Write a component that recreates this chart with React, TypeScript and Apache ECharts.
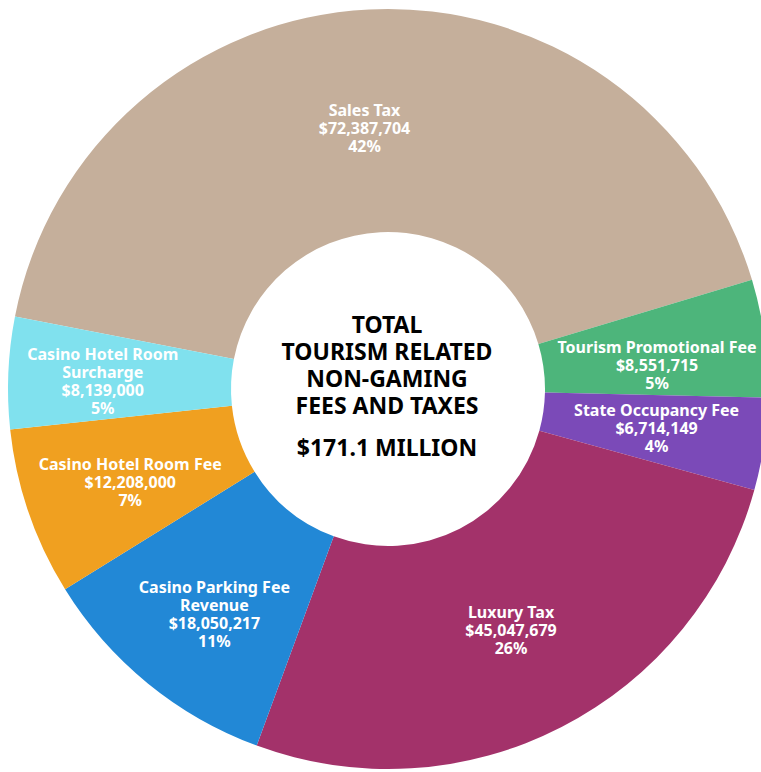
import React, { useEffect, useRef } from "react";
import * as echarts from "echarts";

const categories = [
  "Sales Tax",
  "Tourism Promotional Fee",
  "State Occupancy Fee",
  "Luxury Tax",
  "Casino Parking Fee Revenue",
  "Casino Hotel Room Fee",
  "Casino Hotel Room Surcharge",
];

const labelNames = [
  "Sales Tax",
  "Tourism Promotional Fee",
  "State Occupancy Fee",
  "Luxury Tax",
  "Casino Parking Fee\nRevenue",
  "Casino Hotel Room Fee",
  "Casino Hotel Room\nSurcharge",
];

const values = [72387704, 8551715, 6714149, 45047679, 18050217, 12208000, 8139000];

const colors = ["#C5AF9B", "#4DB57B", "#7B4AB8", "#A3326A", "#2288D6", "#F0A020", "#80E1EE"];

// label nudges (style only)
const labelNudges = [
  [-10, 10],
  [0, 12],
  [0, 0],
  [-1, -1],
  [-2, 15],
  [-1, 5],
  [-14, 4],
];

const centerTitle = "TOTAL\nTOURISM RELATED\nNON-GAMING\nFEES AND TAXES";
const centerTotal = "$171.1 MILLION";

export default function App() {
  const ref = useRef<HTMLDivElement>(null);
  useEffect(() => {
    if (!ref.current) return;
    const chart = echarts.init(ref.current, undefined, { renderer: "svg" });
    const cx = 388;
    const cy = 389;
    chart.setOption({
      animation: false,
      graphic: [
        {
          type: "text",
          x: cx - 1,
          y: 364,
          style: {
            text: centerTitle,
            fill: "#000",
            font: "bold 23px 'Noto Sans'",
            lineHeight: 27,
            align: "center",
            verticalAlign: "middle",
          },
          z: 10,
        },
        {
          type: "text",
          x: cx - 1,
          y: 447,
          style: {
            text: centerTotal,
            fill: "#000",
            font: "bold 23px 'Noto Sans'",
            align: "center",
            verticalAlign: "middle",
          },
          z: 10,
        },
      ],
      series: [
        {
          type: "pie",
          center: [cx, cy],
          radius: [157, 380],
          startAngle: 169,
          clockwise: true,
          silent: true,
          avoidLabelOverlap: false,
          label: {
            show: true,
            position: "inside",
            color: "#fff",
            fontFamily: "Noto Sans",
            fontWeight: "bold",
            fontSize: 16,
            lineHeight: 18,
            align: "center",
            formatter: (p: any) =>
              `${labelNames[p.dataIndex]}\n$${Number(p.value).toLocaleString("en-US")}\n${Math.round(p.percent)}%`,
          },
          labelLine: { show: false },
          itemStyle: { borderWidth: 0 },
          emphasis: { disabled: true },
          data: categories.map((name, i) => ({
            name,
            value: values[i],
            itemStyle: { color: colors[i] },
            label: { offset: labelNudges[i] },
          })),
        },
      ],
    });
    return () => chart.dispose();
  }, []);
  return (
    <div
      ref={ref}
      style={{ position: "fixed", left: 0, top: 0, width: 761, height: 772, background: "#fff" }}
    />
  );
}
